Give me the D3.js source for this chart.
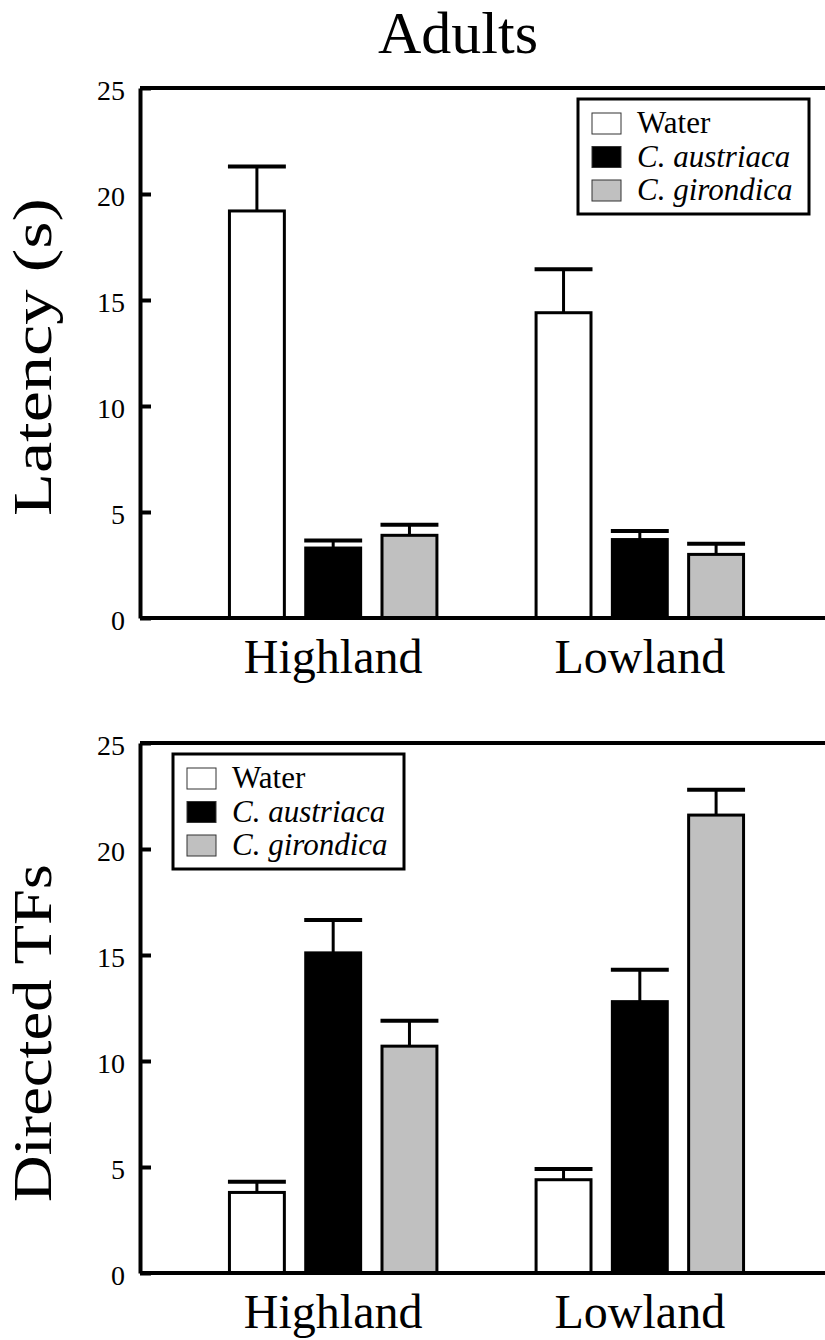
<!DOCTYPE html>
<html>
<head>
<meta charset="utf-8">
<script src="https://cdn.jsdelivr.net/npm/d3@7"></script>
</head>
<body style="margin:0; background:#fff">
<div id="chart"></div>
<script>
// categories
const groups = ['Highland', 'Lowland']
const series = ['Water', 'C. austriaca', 'C. girondica']
const yTicks = [0, 5, 10, 15, 20, 25]

// latency (s): means and upper error (SE) per group, series order as above
const latencyMean = [[19.2, 3.3, 3.9], [14.4, 3.7, 3.0]]
const latencyErr = [[2.1, 0.35, 0.5], [2.05, 0.4, 0.5]]

// directed TFs
const tfMean = [[3.8, 15.1, 10.7], [4.4, 12.8, 21.6]]
const tfErr = [[0.5, 1.55, 1.2], [0.5, 1.5, 1.2]]

const fills = ['#ffffff', '#000000', '#c0c0c0']
const FONT = 'Liberation Serif'

const W = 825, H = 1340
const left = 140, right = 833

const svg = d3.select('#chart').append('svg')
  .attr('width', W)
  .attr('height', H)
  .style('display', 'block')

// title
svg.append('text')
  .attr('x', 458)
  .attr('y', 53)
  .attr('text-anchor', 'middle')
  .attr('font-family', FONT)
  .attr('font-size', 60)
  .text('Adults')

function drawPanel(opts) {
  const means = opts.means, errs = opts.errs

  const y = d3.scaleLinear().domain([0, 25]).range([opts.bottom, opts.top])

  const x0 = d3.scaleBand()
    .domain(groups)
    .range([left, right])
    .paddingInner(0)
    .paddingOuter(0.13)

  const x1 = d3.scaleBand()
    .domain(series)
    .range([0, x0.bandwidth()])
    .paddingInner(0.28)
    .paddingOuter(0.65)

  // flatten data for bars
  const rows = []
  groups.forEach((g, gi) => {
    series.forEach((s, si) => {
      rows.push({ group: g, series: s, si: si, value: means[gi][si], err: errs[gi][si] })
    })
  })

  const g = svg.append('g')

  // bars
  g.selectAll('rect.bar')
    .data(rows)
    .enter()
    .append('rect')
      .attr('class', 'bar')
      .attr('x', d => x0(d.group) + x1(d.series))
      .attr('y', d => y(d.value))
      .attr('width', x1.bandwidth())
      .attr('height', d => y(0) - y(d.value))
      .style('fill', d => fills[d.si])
      .style('stroke', '#000')
      .style('stroke-width', 3)

  // error bars (upper only)
  g.selectAll('line.err')
    .data(rows)
    .enter()
    .append('line')
      .attr('class', 'err')
      .attr('x1', d => x0(d.group) + x1(d.series) + x1.bandwidth() / 2)
      .attr('x2', d => x0(d.group) + x1(d.series) + x1.bandwidth() / 2)
      .attr('y1', d => y(d.value))
      .attr('y2', d => y(d.value + d.err))
      .style('stroke', '#000')
      .style('stroke-width', 3)

  g.selectAll('line.cap')
    .data(rows)
    .enter()
    .append('line')
      .attr('class', 'cap')
      .attr('x1', d => x0(d.group) + x1(d.series) - 1.5)
      .attr('x2', d => x0(d.group) + x1(d.series) + x1.bandwidth() + 1.5)
      .attr('y1', d => y(d.value + d.err))
      .attr('y2', d => y(d.value + d.err))
      .style('stroke', '#000')
      .style('stroke-width', 4)

  // frame: top, bottom, right
  g.append('line')
    .attr('x1', left).attr('x2', right)
    .attr('y1', opts.top).attr('y2', opts.top)
    .style('stroke', '#000').style('stroke-width', 4)
  g.append('line')
    .attr('x1', left).attr('x2', right)
    .attr('y1', opts.bottom).attr('y2', opts.bottom)
    .style('stroke', '#000').style('stroke-width', 4)
  g.append('line')
    .attr('x1', right).attr('x2', right)
    .attr('y1', opts.top).attr('y2', opts.bottom)
    .style('stroke', '#000').style('stroke-width', 4)

  // y axis, ticks pointing inwards
  const yAxis = g.append('g')
    .attr('transform', 'translate(' + left + ',0)')
    .call(d3.axisLeft(y).tickValues(yTicks).tickSizeInner(-11).tickSizeOuter(0).tickPadding(15))
  yAxis.attr('font-family', FONT).attr('font-size', 28)
  yAxis.select('.domain').style('stroke-width', 4)
  yAxis.selectAll('.tick line').style('stroke-width', 4)
  yAxis.selectAll('.tick text')
    .attr('dy', '0.42em')
    .attr('fill', '#000')

  // x labels
  g.selectAll('text.xlab')
    .data(groups)
    .enter()
    .append('text')
      .attr('class', 'xlab')
      .attr('x', d => x0(d) + x0.bandwidth() / 2)
      .attr('y', opts.bottom + 55)
      .attr('text-anchor', 'middle')
      .attr('font-family', FONT)
      .attr('font-size', 48)
      .text(d => d)

  // y title (the original export stretches it along the axis)
  g.append('text')
    .attr('transform', 'translate(51,' + opts.yTitleMid + ') rotate(-90)')
    .attr('text-anchor', 'middle')
    .attr('font-family', FONT)
    .attr('font-size', 54)
    .attr('textLength', opts.yTitleLen)
    .attr('lengthAdjust', 'spacingAndGlyphs')
    .text(opts.yTitle)

  // legend
  const lg = g.append('g')
    .attr('transform', 'translate(' + opts.legendX + ',' + opts.legendY + ')')
  lg.append('rect')
    .attr('width', 231)
    .attr('height', 115)
    .style('fill', '#fff')
    .style('stroke', '#000')
    .style('stroke-width', 3)

  const items = lg.selectAll('.legend-item')
    .data(series)
    .enter()
    .append('g')
    .attr('class', 'legend-item')
    .attr('transform', (d, i) => 'translate(14,' + (34 + i * 33.5) + ')')

  items.append('rect')
    .attr('x', 0)
    .attr('y', -20)
    .attr('width', 29)
    .attr('height', 21)
    .style('fill', (d, i) => fills[i])
    .style('stroke', '#333')
    .style('stroke-width', 1)

  items.append('text')
    .attr('x', 45)
    .attr('y', 0)
    .attr('font-family', FONT)
    .attr('font-size', 31)
    .attr('font-style', (d, i) => i === 0 ? 'normal' : 'italic')
    .text(d => d)
}

drawPanel({
  top: 88, bottom: 618,
  means: latencyMean, errs: latencyErr,
  yTitle: 'Latency (s)', yTitleMid: 357, yTitleLen: 318,
  legendX: 578, legendY: 99
})

drawPanel({
  top: 743, bottom: 1273,
  means: tfMean, errs: tfErr,
  yTitle: 'Directed TFs', yTitleMid: 1033, yTitleLen: 338,
  legendX: 173, legendY: 754
})
</script>
</body>
</html>
